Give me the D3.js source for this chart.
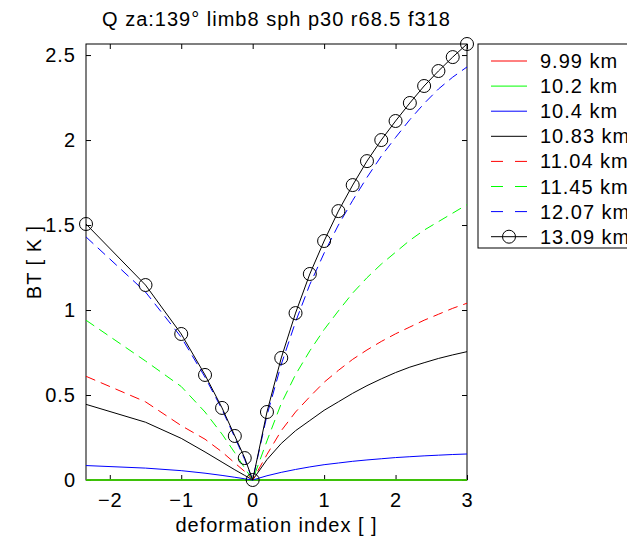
<!DOCTYPE html>
<html>
<head>
<meta charset="utf-8">
<script src="https://cdn.jsdelivr.net/npm/d3@7"></script>
<style>
  body { margin: 0; background: #fff; }
  svg { font-family: "Liberation Sans", Arial, sans-serif; }
  svg text { letter-spacing: 1px; }
</style>
</head>
<body>
<div id="container"></div>
<script>
// deformation index grid (negative side is 1 - 1/s)
const xValues = [-2.333, -1.5, -1, -0.667, -0.4286, -0.25, -0.111, 0,
  0.2, 0.4, 0.6, 0.8, 1.0, 1.2, 1.4, 1.6, 1.8, 2.0, 2.2, 2.4, 2.6, 2.8, 3.0];

const seriesNames = ["9.99 km", "10.2 km", "10.4 km", "10.83 km",
  "11.04 km", "11.45 km", "12.07 km", "13.09 km"];

const bt999 = [0, 0, 0, 0, 0, 0, 0, 0, 0, 0, 0, 0, 0, 0, 0, 0, 0, 0, 0, 0, 0, 0, 0];
const bt1020 = [0, 0, 0, 0, 0, 0, 0, 0, 0, 0, 0, 0, 0, 0, 0, 0, 0, 0, 0, 0, 0, 0, 0];
const bt1040 = [0.085, 0.07, 0.055, 0.04, 0.027, 0.016, 0.007, 0,
  0.025, 0.045, 0.062, 0.077, 0.09, 0.10, 0.11, 0.118, 0.125, 0.132, 0.137, 0.142, 0.146, 0.15, 0.153];
const bt1083 = [0.445, 0.34, 0.245, 0.165, 0.105, 0.06, 0.027, 0,
  0.12, 0.215, 0.29, 0.35, 0.41, 0.46, 0.51, 0.555, 0.595, 0.632, 0.664, 0.69, 0.715, 0.736, 0.755];
const bt1104 = [0.61, 0.46, 0.32, 0.24, 0.165, 0.10, 0.05, 0,
  0.15, 0.29, 0.40, 0.49, 0.575, 0.645, 0.71, 0.765, 0.815, 0.86, 0.90, 0.94, 0.975, 1.01, 1.04];
const bt1145 = [0.94, 0.70, 0.55, 0.40, 0.27, 0.16, 0.07, 0,
  0.23, 0.45, 0.62, 0.76, 0.885, 0.995, 1.10, 1.19, 1.27, 1.34, 1.41, 1.47, 1.52, 1.57, 1.62];
const bt1207 = [1.43, 1.106, 0.84, 0.605, 0.415, 0.25, 0.12, 0,
  0.38, 0.68, 0.93, 1.15, 1.335, 1.50, 1.645, 1.78, 1.905, 2.015, 2.12, 2.215, 2.30, 2.37, 2.43];
const bt1309 = [1.506, 1.147, 0.859, 0.618, 0.424, 0.259, 0.129, 0,
  0.40, 0.718, 0.982, 1.212, 1.406, 1.582, 1.735, 1.876, 2.0, 2.112, 2.218, 2.318, 2.406, 2.488, 2.565];

const xTicks = [-2, -1, 0, 1, 2, 3];
const yTicks = [0, 0.5, 1, 1.5, 2, 2.5];

const seriesValues = [bt999, bt1020, bt1040, bt1083, bt1104, bt1145, bt1207, bt1309];
const seriesColors = ["#ff0000", "#00ff00", "#0000ff", "#000000",
  "#ff0000", "#00ff00", "#0000ff", "#000000"];
const seriesDash = [null, null, null, null, "10,6", "10,6", "10,6", null];

// 尺寸
const width = 627, height = 540;
const plotLeft = 86, plotRight = 467, plotTop = 44, plotBottom = 480;

const svg = d3.select("#container").append("svg")
  .attr("width", width)
  .attr("height", height);

const xScale = d3.scaleLinear([d3.min(xValues), d3.max(xValues)], [plotLeft, plotRight]);
const yScale = d3.scaleLinear([0, d3.max(bt1309)], [plotBottom, plotTop]);

// 坐标轴（刻度朝内，四边都有）
const fontSize = 20;
svg.append("g")
  .attr("transform", `translate(0,${plotBottom})`)
  .call(d3.axisBottom(xScale).tickValues(xTicks).tickSizeInner(-5).tickSizeOuter(0)
    .tickPadding(13).tickFormat(d => d < 0 ? "\u2212" + Math.abs(d) : d))
  .call(g => g.select(".domain").remove())
  .call(g => g.selectAll("text").attr("font-size", fontSize).attr("font-family", null).attr("fill", "#000"));

svg.append("g")
  .attr("transform", `translate(0,${plotTop})`)
  .call(d3.axisTop(xScale).tickValues(xTicks).tickSizeInner(-5).tickSizeOuter(0).tickFormat(""))
  .call(g => g.select(".domain").remove());

svg.append("g")
  .attr("transform", `translate(${plotLeft},0)`)
  .call(d3.axisLeft(yScale).tickValues(yTicks).tickSizeInner(-5).tickSizeOuter(0)
    .tickPadding(10).tickFormat(d3.format("")))
  .call(g => g.select(".domain").remove())
  .call(g => g.selectAll("text").attr("font-size", fontSize).attr("font-family", null).attr("fill", "#000"));

svg.append("g")
  .attr("transform", `translate(${plotRight},0)`)
  .call(d3.axisRight(yScale).tickValues(yTicks).tickSizeInner(-5).tickSizeOuter(0).tickFormat(""))
  .call(g => g.select(".domain").remove());

svg.append("rect")
  .attr("x", plotLeft).attr("y", plotTop)
  .attr("width", plotRight - plotLeft).attr("height", plotBottom - plotTop)
  .attr("fill", "none").attr("stroke", "#000").attr("stroke-width", 1);

// 曲线
const line = d3.line()
  .x((d, i) => xScale(xValues[i]))
  .y(d => yScale(d));

seriesValues.forEach((vals, k) => {
  svg.append("path")
    .datum(vals)
    .attr("d", line)
    .attr("fill", "none")
    .attr("stroke", seriesColors[k])
    .attr("stroke-width", k === 0 ? 1.5 : k === 1 ? 2 : 1)
    .attr("stroke-opacity", k === 1 ? 0.72 : 1)
    .attr("stroke-dasharray", seriesDash[k]);
});

svg.append("g")
  .selectAll("circle")
  .data(bt1309)
  .join("circle")
  .attr("cx", (d, i) => xScale(xValues[i]))
  .attr("cy", d => yScale(d))
  .attr("r", 6.5)
  .attr("fill", "none")
  .attr("stroke", "#000")
  .attr("stroke-width", 1);

// 标题和轴标签
svg.append("text")
  .attr("x", (plotLeft + plotRight) / 2).attr("y", 26)
  .attr("text-anchor", "middle").attr("font-size", fontSize)
  .text("Q za:139\u00b0 limb8 sph p30 r68.5 f318");

svg.append("text")
  .attr("x", (plotLeft + plotRight) / 2).attr("y", 532)
  .attr("text-anchor", "middle").attr("font-size", fontSize)
  .text("deformation index [ ]");

svg.append("text")
  .attr("transform", `translate(41,${(plotTop + plotBottom) / 2}) rotate(-90)`)
  .attr("text-anchor", "middle").attr("font-size", fontSize)
  .text("BT [ K ]");

// 图例
const legend = svg.append("g");
legend.append("rect")
  .attr("x", 478).attr("y", 44)
  .attr("width", 160).attr("height", 204)
  .attr("fill", "#fff").attr("stroke", "#000");

seriesNames.forEach((name, k) => {
  const y = 61 + k * 25.1;
  legend.append("line")
    .attr("x1", 491).attr("x2", 527).attr("y1", y).attr("y2", y)
    .attr("stroke", seriesColors[k])
    .attr("stroke-dasharray", seriesDash[k] ? "12,12" : null);
  if (k === 7) {
    legend.append("circle").attr("cx", 509).attr("cy", y).attr("r", 6.5)
      .attr("fill", "none").attr("stroke", "#000");
  }
  legend.append("text")
    .attr("x", 540).attr("y", y).attr("dy", "0.35em")
    .attr("font-size", fontSize)
    .text(name);
});
</script>
</body>
</html>
